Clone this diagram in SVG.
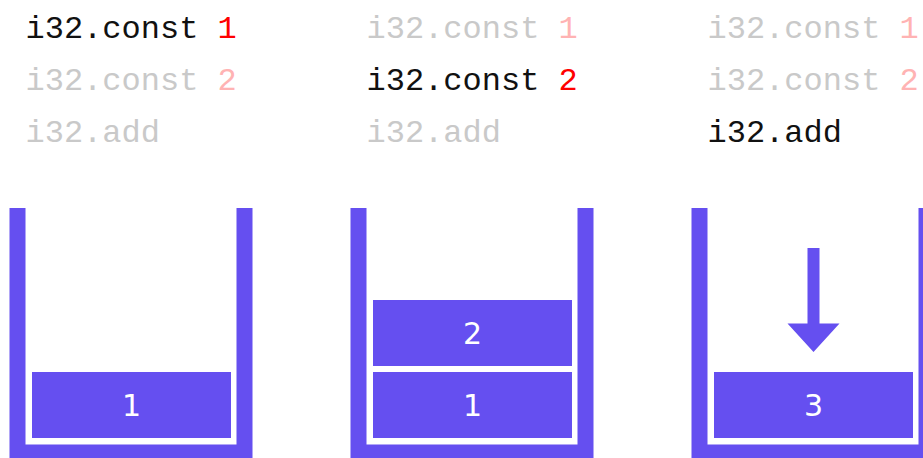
<svg xmlns="http://www.w3.org/2000/svg" width="923" height="458" viewBox="0 0 923 458">
<style>
.code{font-family:"Liberation Mono","DejaVu Sans Mono",monospace;font-size:32px}
.on{fill:#111111}
.off{fill:#c9c9c9}
.num{fill:#ff0000}
.numoff{fill:#ffb3b3}
.wall{fill:none;stroke:#654ff0;stroke-width:16;stroke-linejoin:miter}
.box{fill:#654ff0}
.val{font-family:"DejaVu Sans","Liberation Sans",sans-serif;font-size:30px;fill:#ffffff;text-anchor:middle}
</style>
<rect width="923" height="458" fill="#ffffff"/>
<g id="step1">
  <text class="code on" x="25.5" y="38">i32.const <tspan class="num">1</tspan></text>
  <text class="code off" x="25.5" y="90">i32.const <tspan class="numoff">2</tspan></text>
  <text class="code off" x="25.5" y="142">i32.add</text>
  <path class="wall" d="M17.5 208 V452.5 H244.5 V208"/>
  <g id="s1-v1"><rect class="box" x="32" y="372" width="199" height="66"/><text class="val" x="131.5" y="416">1</text></g>
</g>
<g id="step2">
  <text class="code off" x="366.5" y="38">i32.const <tspan class="numoff">1</tspan></text>
  <text class="code on" x="366.5" y="90">i32.const <tspan class="num">2</tspan></text>
  <text class="code off" x="366.5" y="142">i32.add</text>
  <path class="wall" d="M358.5 208 V452.5 H585.5 V208"/>
  <g id="s2-v2"><rect class="box" x="373" y="300" width="199" height="66"/><text class="val" x="472.5" y="344">2</text></g>
  <g id="s2-v1"><rect class="box" x="373" y="372" width="199" height="66"/><text class="val" x="472.5" y="416">1</text></g>
</g>
<g id="step3">
  <text class="code off" x="707.5" y="38">i32.const <tspan class="numoff">1</tspan></text>
  <text class="code off" x="707.5" y="90">i32.const <tspan class="numoff">2</tspan></text>
  <text class="code on" x="707.5" y="142">i32.add</text>
  <path class="wall" d="M699.5 208 V452.5 H926.5 V208"/>
  <g id="s3-v3"><rect class="box" x="714" y="372" width="199" height="66"/><text class="val" x="813.5" y="416">3</text></g>
</g>
<g id="connectors">
  <path class="box" d="M807.5 248 H819.5 V323.5 H839.5 L813.5 352 L787.5 323.5 H807.5 Z"/>
</g>
</svg>
